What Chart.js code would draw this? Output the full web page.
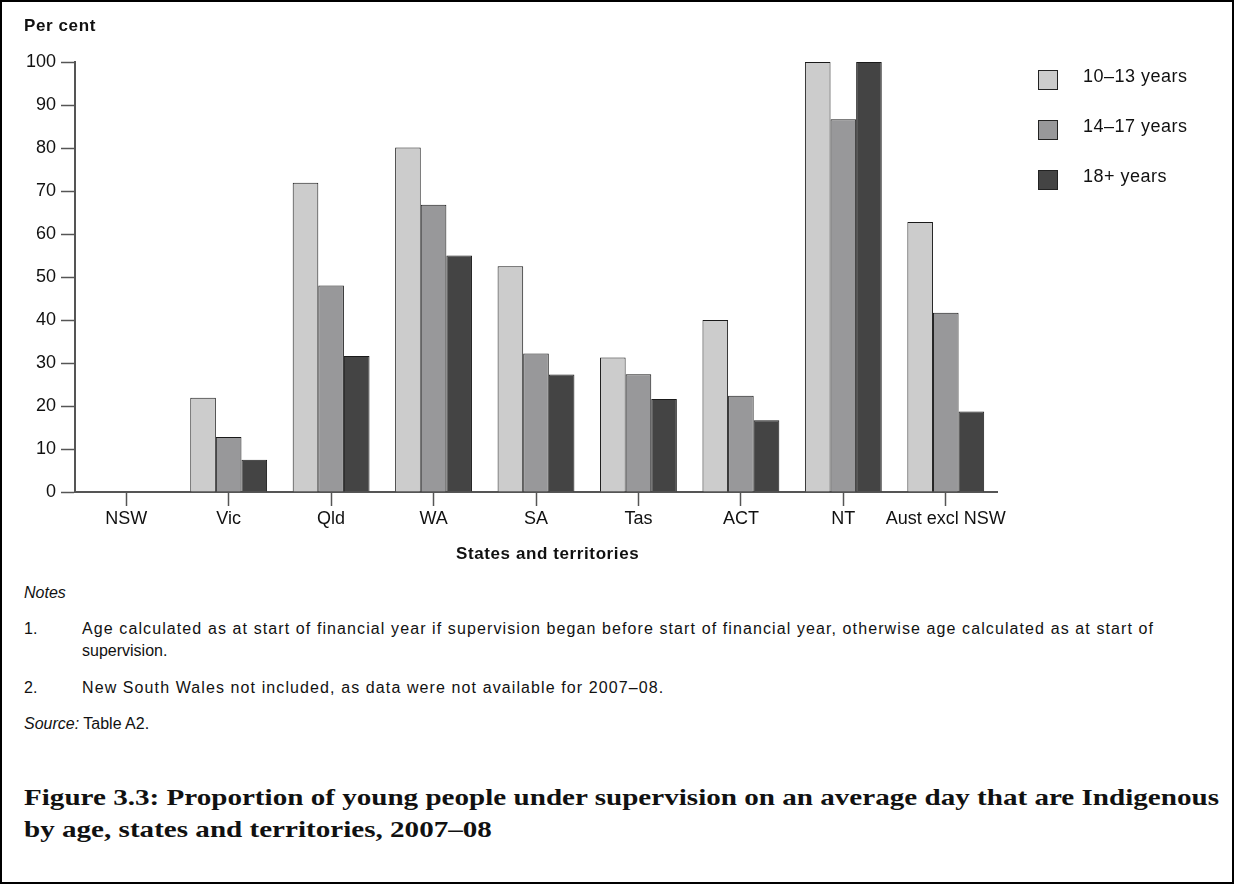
<!DOCTYPE html>
<html>
<head>
<meta charset="utf-8">
<script src="https://cdn.jsdelivr.net/npm/chart.js@4"></script>
<style>
  html, body { margin: 0; padding: 0; background: #fff; }
  #frame {
    position: relative; width: 1234px; height: 884px; box-sizing: border-box;
    border: 2px solid #000; overflow: hidden;
    font-family: "Liberation Sans", Arial, sans-serif; color: #111;
  }
  #chartBox { position: absolute; left: -2px; top: -2px; width: 1234px; height: 575px; }
  .abs { position: absolute; white-space: nowrap; }
  #ytitle { left: 22px; top: 14px; font-weight: bold; font-size: 17px; letter-spacing: 0.6px; }
  #xtitle { left: 454px; top: 542px; font-weight: bold; font-size: 17px; letter-spacing: 0.6px; }
  #legend .item { position: absolute; left: 1036px; font-size: 18px; letter-spacing: 0.5px; }
  #legend .sw { position: absolute; left: 0; top: 1px; width: 18px; height: 18px; border: 1px solid #222; }
  #legend .lbl { position: absolute; left: 45px; top: -3px; white-space: nowrap; }
  .note { font-size: 16px; }
  .wide { letter-spacing: 1.1px; }
  #title { left: 22px; top: 779px; font-family: "Liberation Serif", serif; font-weight: bold; font-size: 24px; line-height: 32px; color: #111; transform-origin: 0 0; }
</style>
</head>
<body>
<div id="frame">
  <div id="chartBox"><canvas id="chart" width="1234" height="575"></canvas></div>
  <div id="ytitle" class="abs">Per cent</div>
  <div id="xtitle" class="abs">States and territories</div>
  <div id="legend"></div>
  <div class="abs note" style="left:22px; top:582px; font-style:italic;">Notes</div>
  <div class="abs note" style="left:22px; top:618px;">1.</div>
  <div class="abs note wide" style="left:80px; top:618px;">Age calculated as at start of financial year if supervision began before start of financial year, otherwise age calculated as at start of</div>
  <div class="abs note" style="left:80px; top:640px;">supervision.</div>
  <div class="abs note" style="left:22px; top:677px;">2.</div>
  <div class="abs note wide" style="left:80px; top:677px;">New South Wales not included, as data were not available for 2007–08.</div>
  <div class="abs note" style="left:22px; top:713px;"><i>Source:</i> Table A2.</div>
  <div id="title" class="abs">Figure 3.3: Proportion of young people under supervision on an average day that are Indigenous<br>by age, states and territories, 2007–08</div>
</div>
<script>
// data
const states = ['NSW', 'Vic', 'Qld', 'WA', 'SA', 'Tas', 'ACT', 'NT', 'Aust excl NSW'];
const ages10to13 = [null, 21.9, 71.9, 80.1, 52.5, 31.3, 40.0, 100, 62.8];
const ages14to17 = [null, 12.8, 48.0, 66.8, 32.2, 27.4, 22.4, 86.7, 41.7];
const ages18plus = [null, 7.5, 31.6, 55.0, 27.3, 21.6, 16.7, 100, 18.7];
const seriesNames = ['10–13 years', '14–17 years', '18+ years'];
const seriesColors = ['#cccccc', '#98989a', '#444444'];
const yTicks = [0, 10, 20, 30, 40, 50, 60, 70, 80, 90, 100];

const font = 'Liberation Sans';
const axisColor = '#555555';

// the figure title is set in a wider face, so stretch it to the seen width
let title = document.getElementById('title');
title.style.transform = 'scaleX(' + (1195 / title.getBoundingClientRect().width) + ')';

let datasets = [ages10to13, ages14to17, ages18plus].map((vals, i) => ({
	label: seriesNames[i],
	data: vals,
	backgroundColor: seriesColors[i],
	borderColor: '#1a1a1a',
	borderWidth: 1,
	borderSkipped: 'bottom',
	barPercentage: 1.0,
	categoryPercentage: 0.75
}));

// legend built from the same series arrays
let legend = document.getElementById('legend');
seriesNames.forEach((name, i) => {
	let item = document.createElement('div');
	item.className = 'item';
	item.style.top = (67 + i * 50) + 'px';
	item.innerHTML = '<div class="sw" style="background:' + seriesColors[i] + '"></div><div class="lbl">' + name + '</div>';
	legend.appendChild(item);
});

let ctx = document.getElementById('chart').getContext('2d');
new Chart(ctx, {
	type: 'bar',
	data: {labels: states, datasets: datasets},
	options: {
		responsive: false,
		animation: false,
		layout: {padding: {left: 0, right: 237, top: 62, bottom: 0}},
		plugins: {
			legend: {display: false},
			tooltip: {enabled: false}
		},
		scales: {
			x: {
				offset: true,
				grid: {display: true, offset: false, drawOnChartArea: false, drawTicks: true, tickLength: 14, tickColor: axisColor, tickWidth: 1.5},
				border: {display: true, color: axisColor, width: 2},
				ticks: {color: '#111', font: {family: font, size: 18}, padding: 2, maxRotation: 0, autoSkip: false},
				afterFit: (scale) => { scale.height = 575 - 492; }
			},
			y: {
				min: 0,
				max: 100,
				afterBuildTicks: (scale) => { scale.ticks = yTicks.map(v => ({value: v})); },
				grid: {display: true, drawOnChartArea: false, drawTicks: true, tickLength: 14, tickColor: axisColor, tickWidth: 1.5},
				border: {display: true, color: axisColor, width: 2},
				ticks: {color: '#111', font: {family: font, size: 18}, padding: 5},
				afterFit: (scale) => { scale.width = 75; }
			}
		}
	}
});
</script>
</body>
</html>
